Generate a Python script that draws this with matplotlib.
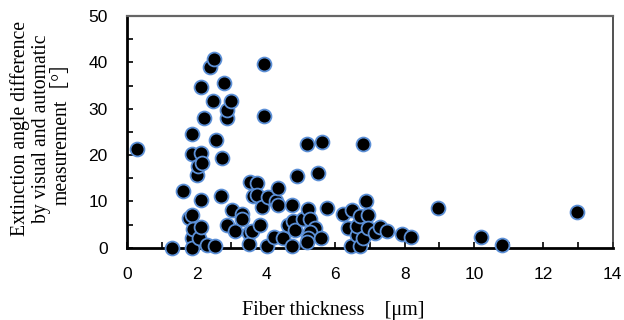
import matplotlib
matplotlib.use("Agg")
import matplotlib.pyplot as plt
from matplotlib.ticker import MultipleLocator

plt.rcParams["font.family"] = ["Liberation Sans", "DejaVu Sans"]

fiber_thickness = [
    0.27, 1.30, 1.62, 1.79, 1.86, 1.86, 1.86, 1.86, 1.86, 1.90,
    2.00, 2.05, 2.07, 2.13, 2.13, 2.13, 2.15, 2.13, 2.21, 2.29,
    2.39, 2.51, 2.48, 2.53, 2.55, 2.70, 2.72, 2.78, 2.87, 2.88,
    2.99, 2.87, 3.01, 3.11, 3.30, 3.32, 3.51, 3.51, 3.54, 3.73,
    3.63, 3.73, 3.59, 3.83, 3.89, 3.94, 3.94, 4.04, 4.07, 4.28,
    4.34, 4.36, 4.24, 4.48, 4.64, 4.74, 4.76, 4.79, 4.84, 4.89,
    5.08, 5.17, 5.22, 5.27, 5.41, 5.27, 5.22, 5.17, 5.49, 5.59,
    5.61, 5.75, 6.21, 6.36, 6.45, 6.47, 6.62, 6.62, 6.71, 6.71,
    6.79, 6.81, 6.88, 6.95, 6.95, 7.14, 7.29, 7.48, 7.93, 8.17,
    8.97, 10.19, 10.80, 12.98,
]
angle_difference = [
    21.2, 0.0, 12.2, 6.3, 7.1, 2.0, 0.0, 20.2, 24.5, 4.0,
    15.7, 17.6, 2.0, 4.4, 10.3, 20.4, 18.2, 34.7, 27.9, 0.6,
    39.1, 40.8, 31.7, 0.4, 23.2, 11.2, 19.3, 35.5, 27.9, 29.7,
    31.7, 4.9, 8.1, 3.5, 7.2, 6.1, 3.1, 0.9, 14.2, 13.9,
    11.2, 11.4, 3.5, 4.9, 8.7, 39.6, 28.4, 0.4, 11.0, 10.1,
    12.8, 9.2, 2.4, 2.0, 4.9, 0.4, 9.2, 5.8, 3.8, 15.5,
    6.1, 22.4, 8.3, 6.1, 4.2, 3.3, 2.0, 1.3, 16.2, 2.0,
    22.7, 8.5, 7.3, 4.2, 0.4, 8.1, 2.7, 4.7, 6.9, 0.4,
    22.4, 2.0, 10.1, 7.1, 4.2, 3.2, 4.4, 3.5, 2.9, 2.4,
    8.5, 2.2, 0.6, 7.6,
]

x_ticks = [0, 2, 4, 6, 8, 10, 12, 14]
y_ticks = [0, 10, 20, 30, 40, 50]

fig = plt.figure(figsize=(6.24, 3.2), dpi=100)
ax = fig.add_axes([0.204, 0.226, 0.778, 0.724])

ax.plot(fiber_thickness, angle_difference, linestyle="none", marker="o",
        markersize=10, markerfacecolor="black", markeredgecolor="#5b8fd6",
        markeredgewidth=1.3, clip_on=False, zorder=3)

ax.set_xlim(0, 14)
ax.set_ylim(0, 50)
ax.set_xticks(x_ticks)
ax.set_yticks(y_ticks)
ax.xaxis.set_minor_locator(MultipleLocator(1))
ax.yaxis.set_minor_locator(MultipleLocator(5))
ax.tick_params(which="both", direction="in", length=4, width=1.2, colors="black",
               labelsize=12.5)
ax.tick_params(axis="x", which="major", pad=14)
ax.tick_params(axis="y", which="major", pad=14)

ax.spines["left"].set_linewidth(2)
ax.spines["bottom"].set_linewidth(2)
ax.spines["top"].set_linewidth(1.6)
ax.spines["top"].set_color("#666666")
ax.spines["right"].set_linewidth(1.2)
ax.spines["right"].set_color("#333333")

serif = ["Liberation Serif", "Noto Sans CJK JP"]
ax.set_xlabel("Fiber thickness\u3000[\u03bcm]", fontfamily=serif, fontsize=14.5)
ax.xaxis.set_label_coords(0.424, -0.228)
fig.text(41 / 624, 1 - 129 / 320,
         "Extinction angle difference\nby visual and automatic\nmeasurement［°］",
         fontfamily=serif, fontsize=14.2, linespacing=1.15, rotation=90,
         ha="center", va="center", multialignment="center")

fig.savefig("out.png", dpi=100)
